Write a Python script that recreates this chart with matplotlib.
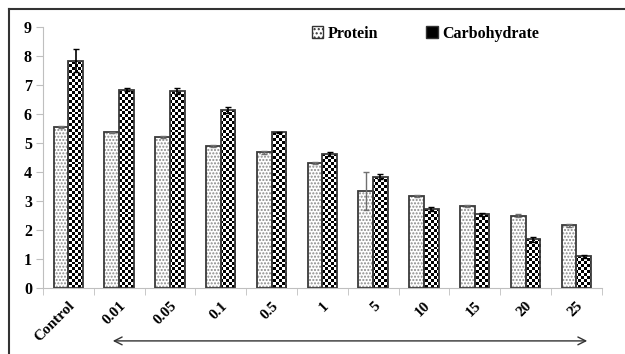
import numpy as np
import matplotlib
matplotlib.use('Agg')
import matplotlib.pyplot as plt
from matplotlib.patches import Patch
from matplotlib.lines import Line2D

# concentrations on the x axis
labels = ['Control', '0.01', '0.05', '0.1', '0.5', '1', '5', '10', '15', '20', '25']

# protein and carbohydrate content
protein = [5.56, 5.38, 5.22, 4.90, 4.68, 4.32, 3.36, 3.18, 2.83, 2.50, 2.16]
protein_err = [0.02, 0.02, 0.03, 0.02, 0.04, 0.04, 0.66, 0.03, 0.05, 0.05, 0.04]
carb = [7.84, 6.84, 6.79, 6.14, 5.37, 4.62, 3.84, 2.73, 2.54, 1.68, 1.09]
carb_err = [0.40, 0.05, 0.10, 0.10, 0.03, 0.06, 0.08, 0.07, 0.05, 0.08, 0.06]

plt.rcParams['font.family'] = 'Liberation Serif'
plt.rcParams['font.weight'] = 'bold'
plt.rcParams['hatch.linewidth'] = 1.0

fig = plt.figure(figsize=(6.25, 3.54), dpi=100)
ax = fig.add_axes([0.0688, 0.1864, 0.8939, 0.7365])

x = np.arange(len(labels))
w = 0.29
edge = '#3a3a3a'

# protein bars: grey stipple, then dark outline
ax.bar(x - w / 2, protein, w, color='white', edgecolor='#8a8a8a', hatch='.....', linewidth=0, zorder=2)
ax.bar(x - w / 2, protein, w, fill=False, edgecolor=edge, linewidth=1.3, zorder=3)

# carbohydrate bars: checkerboard image clipped to each bar
carb_bars = ax.bar(x + w / 2, carb, w, color='white', linewidth=0, zorder=2)
nx, ny = 190, 89
checker = (np.add.outer(np.arange(ny), np.arange(nx)) % 2).astype(float)
for b in carb_bars:
    im = ax.imshow(checker, cmap='gray', extent=(-0.5, 10.5, 0, 9), aspect='auto',
                   interpolation='nearest', zorder=2.5)
    im.set_clip_path(b)
ax.bar(x + w / 2, carb, w, fill=False, edgecolor=edge, linewidth=1.3, zorder=3.5)

ax.errorbar(x - w / 2, protein, yerr=protein_err, fmt='none', ecolor='#707070',
            elinewidth=1, capsize=2.5, zorder=4)
ax.errorbar(x + w / 2, carb, yerr=carb_err, fmt='none', ecolor='black',
            elinewidth=1.2, capsize=2.5, zorder=4)

ax.set_xlim(-0.5, 10.5)
ax.set_ylim(0, 9)
ax.set_yticks(range(10))
ax.tick_params(axis='y', labelsize=11.5, length=5, color='#bfbfbf', pad=3)
ax.set_xticks(x)
ax.set_xticklabels(labels, rotation=45, ha='right', rotation_mode='anchor', fontsize=11)
ax.tick_params(axis='x', length=0, pad=8)
ax.set_xticks(np.arange(-0.5, 11, 1), minor=True)
ax.tick_params(axis='x', which='minor', length=5, color='#bfbfbf')
for s in ['top', 'right']:
    ax.spines[s].set_visible(False)
for s in ['left', 'bottom']:
    ax.spines[s].set_color('#bfbfbf')

handles = [Patch(facecolor='white', edgecolor='#333333', hatch='....', linewidth=1),
           Patch(facecolor='black', edgecolor='#333333', linewidth=1)]
fig.legend(handles, ['Protein', 'Carbohydrate'], loc='center left', bbox_to_anchor=(0.489, 0.905),
           ncol=2, frameon=False, fontsize=11.5, handlelength=0.7, handleheight=0.7,
           handletextpad=0.3, columnspacing=3.0, borderaxespad=0)

# arrow under the axis
ax.annotate('', xy=(0.944, 0.037), xytext=(0.176, 0.037), xycoords='figure fraction',
            arrowprops=dict(arrowstyle='<->', color='#333333', lw=1, mutation_scale=14))

# frame of the original picture (top and left edges)
fig.add_artist(Line2D([0.0144, 1], [0.9746, 0.9746], color='#333333', lw=1.5))
fig.add_artist(Line2D([0.0144, 0.0144], [0, 0.9746], color='#333333', lw=1.5))

fig.savefig('out.png', dpi=100)
